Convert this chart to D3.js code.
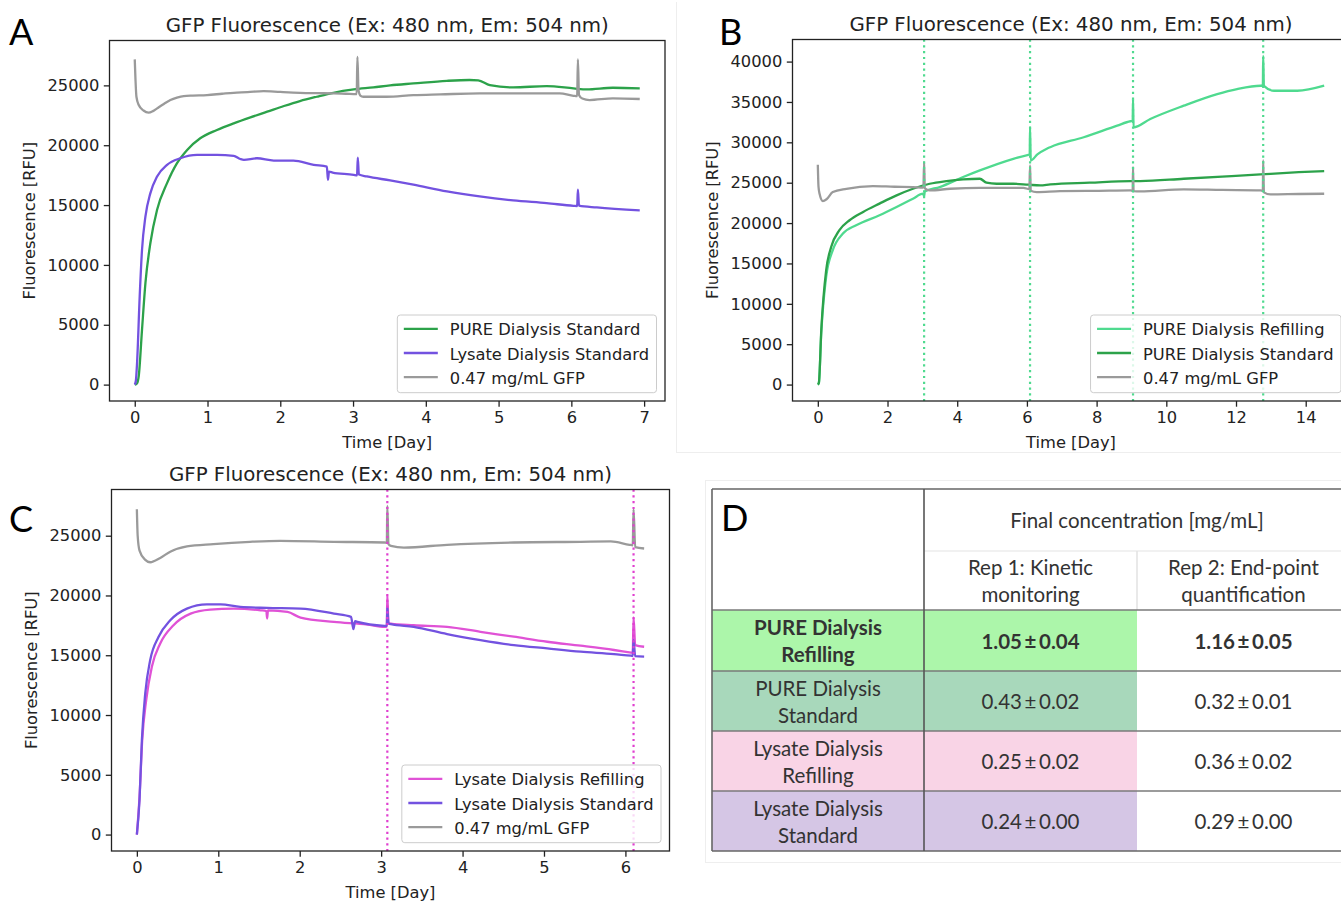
<!DOCTYPE html>
<html><head><meta charset="utf-8">
<script src="https://cdn.jsdelivr.net/npm/d3@7"></script>
<style>
body{margin:0;background:#fff;}
svg{display:block;}
</style></head><body>
<svg id="fig" width="1341" height="903"></svg>
<script>
// ---------- DATA (day, RFU) ----------
const A_PURE_STD = [[0,0],[0.03,100],[0.055,720],[0.1,4600],[0.147,8500],[0.215,11830],[0.307,14610],[0.444,16830],[0.581,18500],[0.72,19610],[0.9,20580],[1.13,21275],[1.36,21830],[1.59,22330],[1.82,22800],[2.05,23275],[2.27,23690],[2.5,24050],[2.73,24380],[3.01,24660],[3.28,24830],[3.51,25000],[3.83,25160],[4.29,25380],[4.6,25450],[4.72,25420],[4.88,25020],[5.2,24830],[5.66,24940],[6.03,24750],[6.21,24660],[6.57,24800],[6.94,24750]];
const A_LYS_STD = [[0,0],[0.015,300],[0.032,1830],[0.068,7380],[0.1,11270],[0.147,14050],[0.215,16000],[0.307,17390],[0.444,18360],[0.627,18910],[0.856,19190],[1.13,19190],[1.36,19110],[1.45,18850],[1.5,18780],[1.68,18910],[1.91,18720],[2.18,18720],[2.46,18360],[2.64,18220],[2.655,17110],[2.67,17800],[2.72,17720],[3.01,17530],[3.055,17480],[3.065,18970],[3.08,17550],[3.19,17390],[3.51,17060],[3.83,16700],[4.29,16140],[4.74,15720],[5.2,15390],[5.66,15160],[6.03,14940],[6.08,14920],[6.09,16280],[6.105,14950],[6.35,14800],[6.94,14550]];
const A_GFP = [[0,27170],[0.01,25500],[0.023,24050],[0.055,23360],[0.12,22900],[0.19,22720],[0.25,22850],[0.307,23080],[0.4,23450],[0.49,23775],[0.58,23980],[0.673,24110],[0.8,24150],[0.993,24190],[1.2,24300],[1.36,24380],[1.55,24430],[1.77,24520],[2.0,24450],[2.27,24380],[2.5,24350],[2.73,24330],[2.9,24300],[3.05,24270],[3.06,27380],[3.075,24600],[3.1,24150],[3.14,24050],[3.46,24050],[3.83,24190],[4.2,24250],[4.74,24330],[5.3,24330],[5.84,24330],[6.03,24130],[6.08,24100],[6.09,27170],[6.105,24200],[6.15,23900],[6.25,23775],[6.57,23915],[6.94,23860]];

const B_PURE_REF = [[0,0],[0.03,200],[0.1,6500],[0.24,13360],[0.43,16650],[0.72,18700],[1.1,19730],[1.77,20970],[2.26,21990],[2.73,23020],[3.02,23640],[3.05,23300],[3.07,23900],[3.5,24460],[4.17,25700],[4.65,26520],[5.61,27960],[6.04,28460],[6.08,28500],[6.09,31860],[6.11,27750],[6.3,28500],[6.57,29200],[6.67,29400],[7.63,30630],[8.59,32070],[8.97,32610],[9.035,32650],[9.045,35360],[9.06,31860],[9.54,32890],[10.5,34540],[11.46,35980],[12.03,36600],[12.7,37010],[12.77,37000],[12.78,40700],[12.8,37000],[13.09,36390],[13.76,36390],[14.53,37010]];
const B_PURE_STD = [[0,0],[0.03,200],[0.1,6780],[0.24,14180],[0.385,17060],[0.62,19120],[0.91,20350],[1.3,21380],[1.77,22410],[2.26,23430],[2.73,24250],[3.21,24870],[3.69,25200],[4.17,25410],[4.65,25490],[4.84,25000],[5.13,24870],[5.61,24870],[6.04,24750],[6.38,24660],[6.67,24790],[7.8,25000],[8.97,25200],[9.25,25200],[10.5,25490],[11.6,25750],[12.7,26020],[12.99,26100],[13.8,26300],[14.53,26430]];
const B_GFP = [[0,27220],[0.02,24500],[0.05,23640],[0.145,22730],[0.25,22950],[0.43,23840],[0.82,24250],[1.58,24580],[2.2,24500],[2.73,24460],[3.03,24400],[3.05,27540],[3.07,24300],[3.21,24050],[3.8,24250],[4.65,24370],[5.9,24370],[6.07,24200],[6.09,27130],[6.11,24000],[6.28,23840],[6.95,23960],[8.0,24000],[8.97,24050],[9.035,24000],[9.045,26930],[9.06,23950],[9.25,23920],[10.5,24170],[11.6,24100],[12.7,24050],[12.77,24000],[12.78,27750],[12.8,23800],[12.99,23550],[13.8,23600],[14.53,23630]];

const C_LYS_REF = [[0,0],[0.033,3200],[0.066,7940],[0.115,11270],[0.184,14040],[0.287,15980],[0.45,17510],[0.66,18480],[0.9,18820],[1.19,18900],[1.52,18760],[1.59,18700],[1.6,18070],[1.61,18750],[1.85,18620],[2.01,18150],[2.42,17790],[2.83,17570],[3.04,17380],[3.07,17400],[3.076,20020],[3.09,17700],[3.12,17650],[3.4,17510],[3.81,17380],[4.22,16960],[4.63,16550],[5.04,16130],[5.45,15800],[5.86,15440],[6.07,15220],[6.09,15200],[6.1,18160],[6.12,15850],[6.23,15710]];
const C_LYS_STD = [[0,0],[0.033,2940],[0.062,7940],[0.103,11820],[0.164,14600],[0.267,16540],[0.41,17920],[0.615,18900],[0.86,19260],[1.03,19260],[1.27,19040],[1.6,18960],[2.01,18900],[2.42,18480],[2.63,18210],[2.66,17180],[2.68,17850],[2.71,17790],[3.04,17460],[3.07,17450],[3.076,19000],[3.09,17650],[3.12,17600],[3.4,17380],[3.81,16770],[4.22,16270],[4.63,15850],[5.04,15570],[5.45,15300],[5.86,15100],[6.07,14960],[6.09,14950],[6.1,16270],[6.12,14920],[6.23,14880]];
const C_GFP = [[0,27220],[0.01,25000],[0.033,23750],[0.1,23000],[0.164,22780],[0.287,23140],[0.41,23660],[0.615,24100],[0.94,24300],[1.39,24490],[1.76,24570],[2.42,24490],[3.04,24430],[3.07,24400],[3.076,27490],[3.09,24300],[3.12,24150],[3.28,24010],[3.81,24240],[4.63,24430],[5.45,24490],[5.82,24520],[6.05,24240],[6.09,24200],[6.1,27220],[6.12,24050],[6.23,23930]];

const A_X_TICKS = [0,1,2,3,4,5,6,7];
const B_X_TICKS = [0,2,4,6,8,10,12,14];
const C_X_TICKS = [0,1,2,3,4,5,6];
const A_Y_TICKS = [0,5000,10000,15000,20000,25000];
const B_Y_TICKS = [0,5000,10000,15000,20000,25000,30000,35000,40000];
const C_Y_TICKS = [0,5000,10000,15000,20000,25000];
const B_REFILL_DAYS = [3.05, 6.09, 9.045, 12.78];
const C_REFILL_DAYS = [3.076, 6.10];

// Table D
const T_ROWS = ["PURE Dialysis|Refilling","PURE Dialysis|Standard","Lysate Dialysis|Refilling","Lysate Dialysis|Standard"];
const T_REP1_MEAN = [1.05, 0.43, 0.25, 0.24];
const T_REP1_SD   = [0.04, 0.02, 0.02, 0.00];
const T_REP2_MEAN = [1.16, 0.32, 0.36, 0.29];
const T_REP2_SD   = [0.05, 0.01, 0.02, 0.00];

const TITLE = "GFP Fluorescence (Ex: 480 nm, Em: 504 nm)";
const COL = {pureStd:"#2ca24a", lysStd:"#7352e0", gfp:"#9a9a9a", pureRef:"#4fda8f", lysRef:"#e052d6"};

// ---------- DRAW ----------
const svg = d3.select("#fig");
const FS = 16.3, FONT = "DejaVu Sans", INK = "#222";

// faint panel borders
svg.append("line").attr("x1",676.5).attr("x2",676.5).attr("y1",2).attr("y2",452).attr("stroke","#eeeeee");
svg.append("line").attr("x1",676).attr("x2",1341).attr("y1",452.5).attr("y2",452.5).attr("stroke","#eeeeee");
svg.append("rect").attr("x",705.5).attr("y",480.5).attr("width",660).attr("height",382).attr("fill","none").attr("stroke","#eeeeee");

function drawPanel(p){
  const g = svg.append("g");
  const all = p.series.flatMap(s=>s.data);
  const [x0,x1] = d3.extent(all,d=>d[0]);
  const [y0,y1] = d3.extent(all,d=>d[1]);
  const xm=(x1-x0)*0.05, ym=(y1-y0)*0.05;
  const x = d3.scaleLinear().domain([x0-xm,x1+xm]).range([p.left,p.left+p.width]);
  const y = d3.scaleLinear().domain([y0-ym,y1+ym]).range([p.top+p.height,p.top]);
  const cid="clip"+p.id;
  svg.append("clipPath").attr("id",cid).append("rect")
    .attr("x",p.left).attr("y",p.top).attr("width",p.width).attr("height",p.height);
  const plot = g.append("g").attr("clip-path",`url(#${cid})`);
  const line = d3.line().x(d=>x(d[0])).y(d=>y(d[1])).curve(d3.curveMonotoneX);
  p.series.forEach(s=>{
    plot.append("path").attr("d",line(s.data)).attr("fill","none")
      .attr("stroke",s.color).attr("stroke-width",2.3).attr("stroke-linejoin","round");
  });
  (p.vlines||[]).forEach(v=>{
    plot.append("line").attr("x1",x(v)).attr("x2",x(v)).attr("y1",p.top).attr("y2",p.top+p.height)
      .attr("stroke",p.vlineColor).attr("stroke-width",2.2).attr("stroke-dasharray","2.2,3.6");
  });
  const ax = g.append("g").attr("transform",`translate(0,${p.top+p.height})`)
    .call(d3.axisBottom(x).tickValues(p.xTicks).tickSize(5.7).tickPadding(4.5).tickFormat(d3.format("d")));
  const ay = g.append("g").attr("transform",`translate(${p.left},0)`)
    .call(d3.axisLeft(y).tickValues(p.yTicks).tickSize(5.7).tickPadding(4.5).tickFormat(d3.format("d")));
  [ax,ay].forEach(a=>{
    a.select(".domain").remove();
    a.selectAll("line").attr("stroke",INK).attr("stroke-width",1.3);
    a.selectAll("text").attr("font-size",FS).attr("font-family",FONT).attr("fill",INK);
  });
  g.append("rect").attr("x",p.left).attr("y",p.top).attr("width",p.width).attr("height",p.height)
    .attr("fill","none").attr("stroke",INK).attr("stroke-width",1.3);
  const cx = p.left+p.width/2;
  g.append("text").attr("x",cx).attr("y",p.top-9).attr("text-anchor","middle")
    .attr("font-family",FONT).attr("font-size",19.8).attr("fill",INK).text(TITLE);
  g.append("text").attr("x",cx).attr("y",p.top+p.height+47).attr("text-anchor","middle")
    .attr("font-family",FONT).attr("font-size",FS).attr("fill",INK).text("Time [Day]");
  g.append("text").attr("transform",`translate(${p.ylabX},${p.top+p.height/2}) rotate(-90)`)
    .attr("text-anchor","middle").attr("dominant-baseline","central")
    .attr("font-family",FONT).attr("font-size",FS).attr("fill",INK).text("Fluorescence [RFU]");
  g.append("text").attr("x",p.letter[1]).attr("y",p.letter[2])
    .attr("font-family","Lato").attr("font-size",36).attr("fill","#000").text(p.letter[0]);
  const lg = g.append("g");
  const padL=6.5, handle=34, gap=12, padR=7.5, rowH=24.2, boxH=77.7;
  const box = lg.append("rect");
  let tw=0;
  const texts = p.series.map((s,i)=>{
    const t = lg.append("text").attr("font-family",FONT).attr("font-size",FS).attr("fill",INK)
      .attr("dominant-baseline","central").text(s.name);
    tw = Math.max(tw, t.node().getComputedTextLength());
    return t;
  });
  const bw = padL+handle+gap+tw+padR;
  const bx = p.left+p.width-8.5-bw, by = p.top+p.height-8.3-boxH;
  box.attr("x",bx).attr("y",by).attr("width",bw).attr("height",boxH).attr("rx",3)
    .attr("fill","#fff").attr("fill-opacity",0.8).attr("stroke","#cccccc").attr("stroke-width",1);
  p.series.forEach((s,i)=>{
    const yy = by+13.8+i*rowH;
    lg.append("line").attr("x1",bx+padL).attr("x2",bx+padL+handle).attr("y1",yy).attr("y2",yy)
      .attr("stroke",s.color).attr("stroke-width",2.3);
    texts[i].attr("x",bx+padL+handle+gap).attr("y",yy+1);
  });
}

drawPanel({id:"A", left:109.5, top:40.5, width:555.5, height:360.5, ylabX:29,
  xTicks:A_X_TICKS, yTicks:A_Y_TICKS, letter:["A",9,45],
  series:[{name:"PURE Dialysis Standard",color:COL.pureStd,data:A_PURE_STD},
          {name:"Lysate Dialysis Standard",color:COL.lysStd,data:A_LYS_STD},
          {name:"0.47 mg/mL GFP",color:COL.gfp,data:A_GFP}]});
drawPanel({id:"B", left:792.5, top:39.5, width:557, height:361.5, ylabX:712,
  xTicks:B_X_TICKS, yTicks:B_Y_TICKS, letter:["B",719,45],
  vlines:B_REFILL_DAYS, vlineColor:COL.pureRef,
  series:[{name:"PURE Dialysis Refilling",color:COL.pureRef,data:B_PURE_REF},
          {name:"PURE Dialysis Standard",color:COL.pureStd,data:B_PURE_STD},
          {name:"0.47 mg/mL GFP",color:COL.gfp,data:B_GFP}]});
drawPanel({id:"C", left:111.5, top:489.5, width:558, height:361.5, ylabX:31,
  xTicks:C_X_TICKS, yTicks:C_Y_TICKS, letter:["C",9,532],
  vlines:C_REFILL_DAYS, vlineColor:"#e040d0",
  series:[{name:"Lysate Dialysis Refilling",color:COL.lysRef,data:C_LYS_REF},
          {name:"Lysate Dialysis Standard",color:COL.lysStd,data:C_LYS_STD},
          {name:"0.47 mg/mL GFP",color:COL.gfp,data:C_GFP}]});

// ---------- TABLE D ----------
(function(){
  const g = svg.append("g");
  const colX=[712,924,1137,1350];
  const rowY=[489,551,610,671,731,791,851];
  const rowFill=["#acf6aa","#a8d8bb","#f9d4e6","#d5c6e5"];
  const TF="Lato", TS=20.5, TC="#333";
  T_ROWS.forEach((r,i)=>{
    g.append("rect").attr("x",colX[0]).attr("y",rowY[i+2]).attr("width",colX[2]-colX[0])
      .attr("height",rowY[i+3]-rowY[i+2]).attr("fill",rowFill[i]);
  });
  const L=(x1,y1,x2,y2,c,w)=>g.append("line").attr("x1",x1).attr("y1",y1).attr("x2",x2).attr("y2",y2).attr("stroke",c).attr("stroke-width",w);
  L(colX[1],rowY[1],colX[3],rowY[1],"#ececec",1.5);
  L(colX[2],rowY[1],colX[2],rowY[2],"#e2e2e2",1.5);
  [2,3,4,5].forEach(k=>L(colX[0],rowY[k],colX[3],rowY[k],"#7a7a7a",1.6));
  L(colX[0],rowY[0],colX[3],rowY[0],"#666",1.6);
  L(colX[0],rowY[6],colX[3],rowY[6],"#666",1.6);
  L(colX[0],rowY[0],colX[0],rowY[6],"#666",1.6);
  L(colX[1],rowY[0],colX[1],rowY[6],"#555",1.6);
  const T=(x,y,s,bold,size)=>g.append("text").attr("x",x).attr("y",y).attr("text-anchor","middle")
    .attr("dominant-baseline","central").attr("font-family",TF).attr("font-size",size||TS)
    .attr("font-weight",bold?"bold":"normal").attr("fill",TC).text(s);
  g.append("text").attr("x",721).attr("y",531).attr("font-family","Lato").attr("font-size",36).attr("fill","#000").text("D");
  const c2=(colX[1]+colX[2])/2, c3=(colX[2]+colX[3])/2;
  T((colX[1]+colX[3])/2,520,"Final concentration [mg/mL]");
  T(c2,567,"Rep 1: Kinetic"); T(c2,594,"monitoring");
  T(c3,567,"Rep 2: End-point"); T(c3,594,"quantification");
  const fmt=(m,s)=>m.toFixed(2)+"\u2009\u00b1\u2009"+s.toFixed(2);
  T_ROWS.forEach((r,i)=>{
    const yc=(rowY[i+2]+rowY[i+3])/2, bold=i===0;
    const parts=r.split("|");
    T((colX[0]+colX[1])/2,yc-13.5,parts[0],bold);
    T((colX[0]+colX[1])/2,yc+13.5,parts[1],bold);
    T(c2,yc,fmt(T_REP1_MEAN[i],T_REP1_SD[i]),bold);
    T(c3,yc,fmt(T_REP2_MEAN[i],T_REP2_SD[i]),bold);
  });
})();
</script>
</body></html>
